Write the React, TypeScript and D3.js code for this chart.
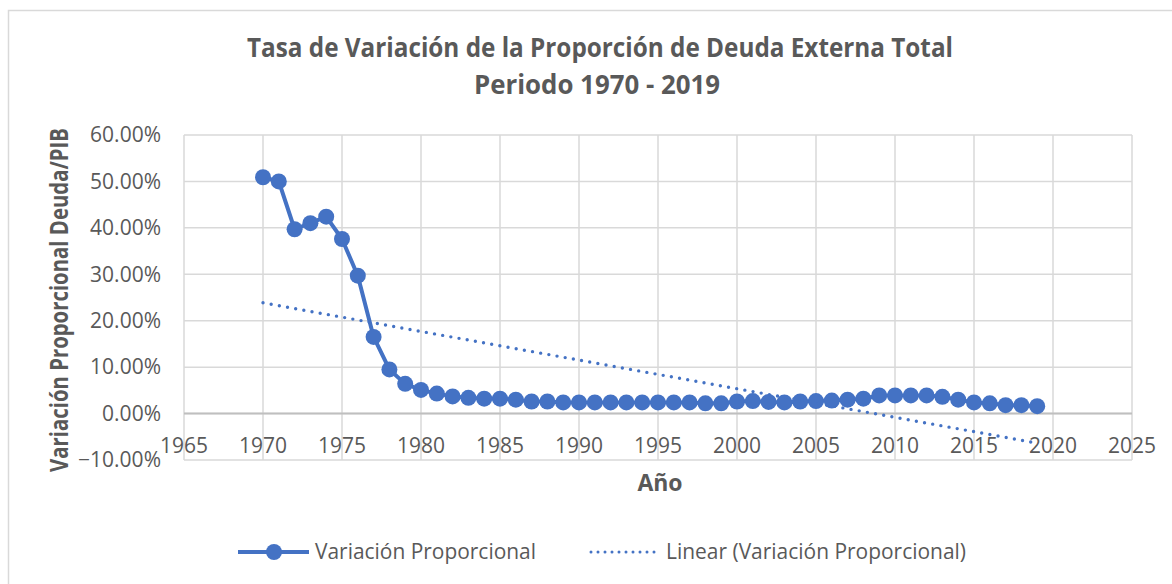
import React from "react";
import * as d3 from "d3";

const years = [
  1970, 1971, 1972, 1973, 1974, 1975, 1976, 1977, 1978, 1979,
  1980, 1981, 1982, 1983, 1984, 1985, 1986, 1987, 1988, 1989,
  1990, 1991, 1992, 1993, 1994, 1995, 1996, 1997, 1998, 1999,
  2000, 2001, 2002, 2003, 2004, 2005, 2006, 2007, 2008, 2009,
  2010, 2011, 2012, 2013, 2014, 2015, 2016, 2017, 2018, 2019,
];
const variacion = [
  0.509, 0.5, 0.397, 0.41, 0.424, 0.376, 0.297, 0.165, 0.095, 0.064,
  0.051, 0.043, 0.037, 0.034, 0.032, 0.032, 0.03, 0.026, 0.026, 0.024,
  0.024, 0.024, 0.024, 0.024, 0.024, 0.024, 0.024, 0.024, 0.022, 0.022,
  0.026, 0.027, 0.025, 0.024, 0.026, 0.027, 0.028, 0.03, 0.032, 0.039,
  0.039, 0.039, 0.039, 0.036, 0.03, 0.024, 0.022, 0.018, 0.018, 0.016,
];
const xTicks = [1965, 1970, 1975, 1980, 1985, 1990, 1995, 2000, 2005, 2010, 2015, 2020, 2025];
const yTicks = [-0.1, 0, 0.1, 0.2, 0.3, 0.4, 0.5, 0.6];

const titleLine1 = "Tasa de Variación de la Proporción de Deuda Externa Total";
const titleLine2 = "Periodo 1970 - 2019";
const yTitle = "Variación Proporcional Deuda/PIB";
const xTitle = "Año";
const seriesName = "Variación Proporcional";
const trendName = "Linear (Variación Proporcional)";

const BLUE = "#4472C4";
const TEXT = "#595959";
const GRID = "#d9d9d9";
const FONT = "'Open Sans', 'Noto Sans', sans-serif";

export default function App() {
  const W = 1172;
  const H = 584;
  const x = d3.scaleLinear().domain([1965, 2025]).range([184, 1132]);
  const y = d3.scaleLinear().domain([-0.1, 0.6]).range([460, 135]);

  const pts = years.map((yr, i) => [yr, variacion[i]] as [number, number]);
  const line = d3
    .line<[number, number]>()
    .x((d) => x(d[0]))
    .y((d) => y(d[1]));

  // least-squares trendline
  const mx = d3.mean(years) as number;
  const my = d3.mean(variacion) as number;
  let num = 0;
  let den = 0;
  years.forEach((yr, i) => {
    num += (yr - mx) * (variacion[i] - my);
    den += (yr - mx) * (yr - mx);
  });
  const slope = num / den;
  const intercept = my - slope * mx;
  const x0 = years[0];
  const x1 = years[years.length - 1];
  const trend: [number, number][] = [
    [x0, intercept + slope * x0],
    [x1, intercept + slope * x1],
  ];

  const fmt = d3.format(".2%");

  return (
    <svg
      width={W}
      height={H}
      style={{ position: "absolute", left: 0, top: 0, background: "#fff" }}
      fontFamily={FONT}
    >
      <rect x={0} y={0} width={W} height={H} fill="#fff" />
      <rect x={8.5} y={10.5} width={W + 20} height={H + 20} fill="none" stroke={GRID} strokeWidth={1.5} />

      {/* title */}
      <text x={600} y={57} textAnchor="middle" fontSize={26} fontWeight="bold" fill={TEXT} textLength={706} lengthAdjust="spacingAndGlyphs">
        {titleLine1}
      </text>
      <text x={597} y={94} textAnchor="middle" fontSize={26} fontWeight="bold" fill={TEXT} textLength={246} lengthAdjust="spacingAndGlyphs">
        {titleLine2}
      </text>

      {/* gridlines */}
      {yTicks.map((t) => (
        <line
          key={"gy" + t}
          x1={x(1965)}
          x2={x(2025)}
          y1={y(t)}
          y2={y(t)}
          stroke={GRID}
          strokeWidth={1.5}
        />
      ))}
      {xTicks.map((t) => (
        <line key={"gx" + t} x1={x(t)} x2={x(t)} y1={y(0.6)} y2={y(-0.1)} stroke={GRID} strokeWidth={1.5} />
      ))}
      <line x1={x(1965)} x2={x(2025)} y1={y(0)} y2={y(0)} stroke="#bfbfbf" strokeWidth={2} />

      {/* y tick labels */}
      {yTicks.map((t) => (
        <text key={"ty" + t} x={161} y={y(t)} dy="0.35em" textAnchor="end" fontSize={21} fill={TEXT}>
          {fmt(t)}
        </text>
      ))}
      {/* x tick labels */}
      {xTicks.map((t) => (
        <text key={"tx" + t} x={x(t)} y={446} dy="0.35em" textAnchor="middle" fontSize={21} fill={TEXT}>
          {t}
        </text>
      ))}

      {/* axis titles */}
      <text
        transform={`translate(68, 300) rotate(-90)`}
        textAnchor="middle"
        fontSize={25}
        fontWeight="bold"
        fill={TEXT}
        textLength={344}
        lengthAdjust="spacingAndGlyphs"
      >
        {yTitle}
      </text>
      <text x={660} y={491} textAnchor="middle" fontSize={23} fontWeight="bold" fill={TEXT}>
        {xTitle}
      </text>

      {/* series */}
      <path d={line(pts) || ""} fill="none" stroke={BLUE} strokeWidth={4} strokeLinejoin="round" />
      {pts.map((d, i) => (
        <circle key={"p" + i} cx={x(d[0])} cy={y(d[1])} r={8} fill={BLUE} />
      ))}

      {/* trendline */}
      <path
        d={line(trend) || ""}
        fill="none"
        stroke={BLUE}
        strokeWidth={3.4}
        strokeDasharray="0 8.3"
        strokeLinecap="round"
      />

      {/* legend */}
      <line x1={238} x2={309} y1={552} y2={552} stroke={BLUE} strokeWidth={4} />
      <circle cx={274} cy={552} r={8} fill={BLUE} />
      <text x={315} y={552} dy="0.35em" fontSize={21} fill={TEXT} textLength={221} lengthAdjust="spacingAndGlyphs">
        {seriesName}
      </text>
      <line x1={591} x2={659} y1={552} y2={552} stroke={BLUE} strokeWidth={3} strokeDasharray="0 7" strokeLinecap="round" />
      <text x={666} y={552} dy="0.35em" fontSize={21} fill={TEXT} textLength={300} lengthAdjust="spacingAndGlyphs">
        {trendName}
      </text>
    </svg>
  );
}
